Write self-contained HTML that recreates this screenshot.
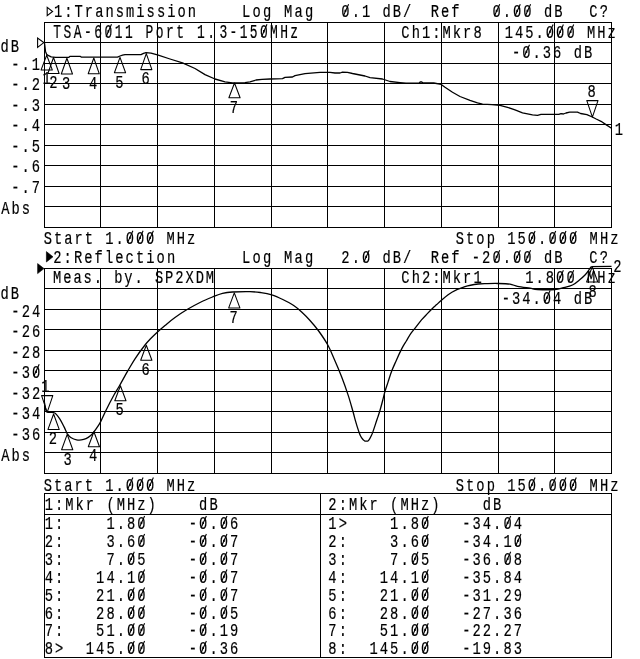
<!DOCTYPE html>
<html lang="en">
<head>
<meta charset="utf-8">
<title>Network analyzer plot</title>
<style>
html,body{margin:0;padding:0;background:#fff;}
body{width:640px;height:659px;overflow:hidden;}
svg{display:block;will-change:transform;}
text{font-kerning:none;white-space:pre;}
</style>
</head>
<body>
<svg width="640" height="659" viewBox="0 0 640 659">
<rect x="0" y="0" width="640" height="659" fill="#fff"/>
<g fill="#000">
<rect x="44" y="22" width="568" height="1"/>
<rect x="44" y="42" width="568" height="1"/>
<rect x="44" y="63" width="568" height="1"/>
<rect x="44" y="83" width="568" height="1"/>
<rect x="44" y="104" width="568" height="1"/>
<rect x="44" y="124" width="568" height="1"/>
<rect x="44" y="145" width="568" height="1"/>
<rect x="44" y="165" width="568" height="1"/>
<rect x="44" y="186" width="568" height="1"/>
<rect x="44" y="206" width="568" height="1"/>
<rect x="44" y="227" width="568" height="1"/>
<rect x="44" y="22" width="1" height="206"/>
<rect x="100" y="22" width="1" height="206"/>
<rect x="157" y="22" width="1" height="206"/>
<rect x="214" y="22" width="1" height="206"/>
<rect x="271" y="22" width="1" height="206"/>
<rect x="327" y="22" width="1" height="206"/>
<rect x="384" y="22" width="1" height="206"/>
<rect x="441" y="22" width="1" height="206"/>
<rect x="498" y="22" width="1" height="206"/>
<rect x="554" y="22" width="1" height="206"/>
<rect x="611" y="22" width="1" height="206"/>
<rect x="44" y="268" width="568" height="1"/>
<rect x="44" y="288" width="568" height="1"/>
<rect x="44" y="309" width="568" height="1"/>
<rect x="44" y="329" width="568" height="1"/>
<rect x="44" y="350" width="568" height="1"/>
<rect x="44" y="370" width="568" height="1"/>
<rect x="44" y="391" width="568" height="1"/>
<rect x="44" y="411" width="568" height="1"/>
<rect x="44" y="432" width="568" height="1"/>
<rect x="44" y="452" width="568" height="1"/>
<rect x="44" y="473" width="568" height="1"/>
<rect x="44" y="268" width="1" height="206"/>
<rect x="100" y="268" width="1" height="206"/>
<rect x="157" y="268" width="1" height="206"/>
<rect x="214" y="268" width="1" height="206"/>
<rect x="271" y="268" width="1" height="206"/>
<rect x="327" y="268" width="1" height="206"/>
<rect x="384" y="268" width="1" height="206"/>
<rect x="441" y="268" width="1" height="206"/>
<rect x="498" y="268" width="1" height="206"/>
<rect x="554" y="268" width="1" height="206"/>
<rect x="611" y="268" width="1" height="206"/>
<rect x="44" y="493" width="568" height="1"/>
<rect x="44" y="514" width="568" height="1"/>
<rect x="44" y="657" width="568" height="1"/>
<rect x="44" y="493" width="1" height="165"/>
<rect x="320" y="493" width="1" height="165"/>
<rect x="611" y="493" width="1" height="165"/>
</g>
<path d="M44.5,43.0 L45.5,51.4 L46.6,54.2 L48.1,55.4 L51.2,56.8 L55.7,57.4 L68.6,57.4 L69.8,56.4 L80.5,56.4 L81.5,57.2 L117.5,57.2 L120.0,56.0 L122.5,55.2 L125.0,54.6 L141.0,54.6 L143.5,53.4 L146.0,52.6 L151.0,53.2 L157.5,54.9 L170.0,59.0 L182.5,62.8 L195.0,68.5 L205.0,74.6 L215.0,79.0 L225.0,81.8 L232.5,82.8 L245.0,82.6 L250.0,81.8 L256.0,80.0 L262.0,79.3 L270.0,79.0 L282.5,78.6 L285.0,77.3 L292.5,77.0 L295.0,75.6 L305.0,73.6 L320.0,72.4 L330.0,72.4 L335.0,73.0 L340.0,73.0 L342.5,72.1 L347.5,72.3 L352.5,73.5 L365.0,76.0 L370.0,77.7 L382.5,79.0 L390.0,81.5 L400.0,82.6 L406.0,83.2 L419.0,83.2 L420.2,82.0 L421.8,82.0 L423.0,83.0 L433.8,83.0 L441.2,84.4 L445.0,87.3 L452.5,92.3 L460.0,96.5 L470.0,100.3 L477.5,102.8 L482.5,104.2 L492.0,104.6 L500.0,105.3 L507.5,107.3 L515.0,109.8 L522.5,112.8 L532.5,114.8 L537.5,115.3 L541.0,114.4 L558.8,114.4 L561.0,113.6 L563.4,114.0 L566.0,113.0 L569.7,112.1 L577.5,112.1 L580.6,113.5 L586.9,114.6 L592.3,117.0 L596.2,119.0 L601.0,121.3 L605.6,124.4 L611.5,128.3" fill="none" stroke="#000" stroke-width="1.3" stroke-linejoin="round"/>
<path d="M44.5,402.5 C44.6,403.4 45.1,406.5 45.4,408.0 C45.7,409.5 45.8,410.9 46.4,411.6 C47.0,412.3 47.9,412.2 49.3,412.4 C50.7,412.6 53.1,412.0 54.8,413.0 C56.4,414.0 57.8,416.0 59.4,418.3 C61.0,420.6 62.8,424.3 64.1,426.9 C65.4,429.4 66.1,431.8 67.2,433.6 C68.4,435.4 69.6,436.8 71.2,437.8 C72.8,438.8 74.9,439.5 76.6,439.8 C78.3,440.1 79.7,440.1 81.3,439.9 C82.9,439.7 84.4,439.3 86.0,438.6 C87.6,437.9 89.4,436.6 90.7,435.5 C92.0,434.4 92.5,433.7 93.8,432.0 C95.1,430.3 97.3,427.1 98.5,425.3 C99.7,423.5 99.5,424.0 100.8,421.4 C102.1,418.8 104.1,414.1 106.3,409.7 C108.5,405.3 111.9,398.8 114.1,394.8 C116.3,390.8 117.4,389.4 119.6,385.5 C121.8,381.6 124.9,375.8 127.5,371.3 C130.1,366.9 132.1,363.2 135.0,358.8 C137.9,354.4 142.5,348.2 145.0,345.0 C147.5,341.8 147.9,341.5 150.0,339.3 C152.1,337.1 155.0,334.3 157.5,332.0 C160.0,329.7 162.1,327.9 165.0,325.5 C167.9,323.1 171.2,320.2 175.0,317.5 C178.8,314.8 183.3,311.8 187.5,309.3 C191.7,306.8 195.8,304.6 200.0,302.5 C204.2,300.4 208.8,298.5 212.5,297.0 C216.2,295.5 219.2,294.2 222.5,293.4 C225.8,292.6 227.9,292.3 232.5,292.0 C237.1,291.7 245.2,291.5 250.0,291.6 C254.8,291.7 257.4,292.1 261.0,292.6 C264.6,293.1 268.2,293.7 271.8,294.8 C275.4,295.9 279.2,297.7 282.8,299.5 C286.4,301.3 290.5,303.4 293.7,305.5 C296.9,307.6 299.2,309.8 301.9,312.3 C304.6,314.8 307.3,317.5 310.0,320.5 C312.7,323.5 315.3,326.4 318.3,330.5 C321.3,334.6 325.1,340.1 327.8,345.0 C330.5,349.9 332.3,354.8 334.6,360.0 C336.9,365.2 339.2,370.6 341.5,376.5 C343.8,382.4 346.4,389.8 348.3,395.6 C350.2,401.4 351.7,407.1 352.9,411.3 C354.1,415.5 354.5,417.4 355.4,420.6 C356.3,423.8 357.6,428.0 358.5,430.6 C359.4,433.2 359.9,434.8 360.7,436.3 C361.5,437.9 362.6,439.1 363.3,439.9 C364.0,440.7 364.2,440.8 364.9,441.0 C365.6,441.2 367.0,441.2 367.7,441.0 C368.4,440.8 368.4,440.7 369.0,439.9 C369.6,439.1 370.4,437.6 371.0,436.3 C371.6,435.0 372.2,433.9 372.9,431.9 C373.6,429.9 374.6,426.9 375.4,424.4 C376.2,421.9 377.1,419.3 377.9,416.9 C378.7,414.5 379.3,412.8 380.1,410.0 C380.9,407.2 382.0,403.2 382.8,400.0 C383.6,396.8 384.2,394.0 385.1,391.0 C386.0,388.0 387.0,385.3 388.1,381.9 C389.2,378.5 390.5,374.3 391.9,370.6 C393.3,366.9 394.9,363.6 396.5,359.9 C398.1,356.2 400.2,351.8 401.8,348.6 C403.4,345.5 404.8,343.5 406.3,341.0 C407.8,338.5 409.4,335.6 410.9,333.4 C412.4,331.2 413.7,329.9 415.5,327.6 C417.3,325.4 419.5,322.3 421.5,319.9 C423.5,317.5 425.7,315.4 427.6,313.4 C429.5,311.4 431.4,309.5 432.9,308.0 C434.4,306.5 435.3,305.9 436.7,304.6 C438.1,303.3 438.9,302.3 441.4,300.2 C443.9,298.1 448.0,294.5 451.9,292.2 C455.8,289.9 460.6,288.0 465.0,286.6 C469.4,285.2 474.4,284.5 478.2,284.0 C481.9,283.5 484.2,283.7 487.5,283.6 C490.8,283.5 494.2,283.4 498.0,283.5 C501.8,283.6 506.8,283.7 510.0,284.2 C513.2,284.7 514.2,285.6 517.5,286.3 C520.8,287.0 526.7,287.7 530.0,288.2 C533.3,288.7 533.3,289.3 537.5,289.5 C541.7,289.7 550.8,289.8 555.0,289.5 C559.2,289.2 559.6,288.8 562.5,288.0 C565.4,287.2 569.6,286.4 572.5,285.0 C575.4,283.6 577.9,281.2 580.0,279.5 C582.1,277.8 583.6,276.5 585.0,275.0 C586.4,273.5 587.5,272.0 588.5,270.6 C589.5,269.2 590.8,267.3 591.3,266.6" fill="none" stroke="#000" stroke-width="1.3" stroke-linejoin="round"/>
<path d="M591.3,266.6 L611.5,266.3" fill="none" stroke="#000" stroke-width="1.3" stroke-linejoin="round"/>
<g font-family='"Liberation Mono", "DejaVu Sans Mono", monospace' font-size="18.6" fill="#000" stroke="#000" stroke-width="0.2">
<path d="M46.7,55.3 L41.1,69.9 L52.3,69.9 Z" fill="none" stroke="#000" stroke-width="1.05" stroke-linejoin="round"/>
<text xml:space="preserve" transform="translate(42.38,84.10) scale(0.74,1)" style="letter-spacing:2.757px">1</text>
<path d="M53.5,57.5 L47.9,73.5 L59.1,73.5 Z" fill="none" stroke="#000" stroke-width="1.05" stroke-linejoin="round"/>
<text xml:space="preserve" transform="translate(49.18,87.90) scale(0.74,1)" style="letter-spacing:2.757px">2</text>
<path d="M66.9,58.2 L61.3,74.0 L72.5,74.0 Z" fill="none" stroke="#000" stroke-width="1.05" stroke-linejoin="round"/>
<text xml:space="preserve" transform="translate(62.08,88.80) scale(0.74,1)" style="letter-spacing:2.757px">3</text>
<path d="M93.8,58.0 L88.2,73.8 L99.3,73.8 Z" fill="none" stroke="#000" stroke-width="1.05" stroke-linejoin="round"/>
<text xml:space="preserve" transform="translate(88.93,88.60) scale(0.74,1)" style="letter-spacing:2.757px">4</text>
<path d="M120.0,57.4 L114.4,72.8 L125.6,72.8 Z" fill="none" stroke="#000" stroke-width="1.05" stroke-linejoin="round"/>
<text xml:space="preserve" transform="translate(115.18,87.60) scale(0.74,1)" style="letter-spacing:2.757px">5</text>
<path d="M146.3,53.6 L140.7,69.6 L151.9,69.6 Z" fill="none" stroke="#000" stroke-width="1.05" stroke-linejoin="round"/>
<text xml:space="preserve" transform="translate(141.48,84.40) scale(0.74,1)" style="letter-spacing:2.757px">6</text>
<path d="M234.5,83.0 L228.9,97.8 L240.1,97.8 Z" fill="none" stroke="#000" stroke-width="1.05" stroke-linejoin="round"/>
<text xml:space="preserve" transform="translate(229.68,112.60) scale(0.74,1)" style="letter-spacing:2.757px">7</text>
<path d="M592.4,117.2 L586.8,100.6 L598.0,100.6 Z" fill="none" stroke="#000" stroke-width="1.05" stroke-linejoin="round"/>
<text xml:space="preserve" transform="translate(587.58,97.40) scale(0.74,1)" style="letter-spacing:2.757px">8</text>
<path d="M47.2,412.4 L41.6,395.6 L52.8,395.6 Z" fill="none" stroke="#000" stroke-width="1.05" stroke-linejoin="round"/>
<text xml:space="preserve" transform="translate(41.18,392.20) scale(0.74,1)" style="letter-spacing:2.757px">1</text>
<path d="M53.6,414.0 L48.0,429.4 L59.2,429.4 Z" fill="none" stroke="#000" stroke-width="1.05" stroke-linejoin="round"/>
<text xml:space="preserve" transform="translate(48.78,444.20) scale(0.74,1)" style="letter-spacing:2.757px">2</text>
<path d="M67.2,434.4 L61.6,449.8 L72.8,449.8 Z" fill="none" stroke="#000" stroke-width="1.05" stroke-linejoin="round"/>
<text xml:space="preserve" transform="translate(63.38,464.60) scale(0.74,1)" style="letter-spacing:2.757px">3</text>
<path d="M93.9,431.8 L88.3,446.8 L99.5,446.8 Z" fill="none" stroke="#000" stroke-width="1.05" stroke-linejoin="round"/>
<text xml:space="preserve" transform="translate(89.08,461.20) scale(0.74,1)" style="letter-spacing:2.757px">4</text>
<path d="M120.4,385.7 L114.8,400.7 L126.0,400.7 Z" fill="none" stroke="#000" stroke-width="1.05" stroke-linejoin="round"/>
<text xml:space="preserve" transform="translate(115.58,414.70) scale(0.74,1)" style="letter-spacing:2.757px">5</text>
<path d="M146.3,345.3 L140.7,360.3 L151.9,360.3 Z" fill="none" stroke="#000" stroke-width="1.05" stroke-linejoin="round"/>
<text xml:space="preserve" transform="translate(141.48,375.10) scale(0.74,1)" style="letter-spacing:2.757px">6</text>
<path d="M234.3,292.9 L228.7,307.9 L239.9,307.9 Z" fill="none" stroke="#000" stroke-width="1.05" stroke-linejoin="round"/>
<text xml:space="preserve" transform="translate(229.48,322.70) scale(0.74,1)" style="letter-spacing:2.757px">7</text>
<path d="M592.2,266.8 L586.6,282.0 L597.8,282.0 Z" fill="none" stroke="#000" stroke-width="1.05" stroke-linejoin="round"/>
<text xml:space="preserve" transform="translate(588.58,296.80) scale(0.74,1)" style="letter-spacing:2.757px">8</text>
<text xml:space="preserve" transform="translate(614.83,134.60) scale(0.74,1)" style="letter-spacing:2.757px">1</text>
<text xml:space="preserve" transform="translate(613.33,272.00) scale(0.74,1)" style="letter-spacing:2.757px">2</text>
<path d="M47.2,7.3 L47.2,15.7 L52.6,11.5 Z" fill="none" stroke="#000" stroke-width="1.1"/>
<text xml:space="preserve" transform="translate(53.93,17.40) scale(0.74,1)" style="letter-spacing:2.757px">1:Transmission</text>
<text xml:space="preserve" transform="translate(241.93,17.40) scale(0.74,1)" style="letter-spacing:3.027px">Log Mag</text>
<text xml:space="preserve" transform="translate(341.33,17.40) scale(0.74,1)" style="letter-spacing:2.757px">0.1 dB/</text>
<text xml:space="preserve" transform="translate(430.63,17.40) scale(0.74,1)" style="letter-spacing:2.757px">Ref   0.00 dB</text>
<text xml:space="preserve" transform="translate(589.33,17.40) scale(0.74,1)" style="letter-spacing:2.757px">C?</text>
<text xml:space="preserve" transform="translate(53.19,38.00) scale(0.66,1)" font-size="19.6" style="letter-spacing:3.799px">TSA-6011 Port 1.<tspan dx="3.15" style="letter-spacing:3.571px">3-150MHz</tspan></text>
<text xml:space="preserve" transform="translate(401.33,37.60) scale(0.74,1)" style="letter-spacing:2.757px">Ch1:Mkr8</text>
<text xml:space="preserve" transform="translate(504.63,37.60) scale(0.74,1)" style="letter-spacing:2.757px">145.000 MHz</text>
<text xml:space="preserve" transform="translate(501.63,58.00) scale(0.74,1)" style="letter-spacing:2.757px"> -0.36 dB</text>
<text xml:space="preserve" transform="translate(0.53,52.20) scale(0.74,1)" style="letter-spacing:2.757px">dB</text>
<text xml:space="preserve" transform="translate(11.13,69.90) scale(0.74,1)" style="letter-spacing:2.757px">-.1</text>
<text xml:space="preserve" transform="translate(11.13,89.90) scale(0.74,1)" style="letter-spacing:2.757px">-.2</text>
<text xml:space="preserve" transform="translate(11.13,110.90) scale(0.74,1)" style="letter-spacing:2.757px">-.3</text>
<text xml:space="preserve" transform="translate(11.13,130.90) scale(0.74,1)" style="letter-spacing:2.757px">-.4</text>
<text xml:space="preserve" transform="translate(11.13,151.90) scale(0.74,1)" style="letter-spacing:2.757px">-.5</text>
<text xml:space="preserve" transform="translate(11.13,171.90) scale(0.74,1)" style="letter-spacing:2.757px">-.6</text>
<text xml:space="preserve" transform="translate(11.13,192.90) scale(0.74,1)" style="letter-spacing:2.757px">-.7</text>
<text xml:space="preserve" transform="translate(1.13,214.20) scale(0.74,1)" style="letter-spacing:2.757px">Abs</text>
<path d="M37.6,38.0 L37.6,47.4 L43.8,42.6 Z" fill="none" stroke="#000" stroke-width="1.1"/>
<text xml:space="preserve" transform="translate(43.73,244.00) scale(0.74,1)" style="letter-spacing:2.676px">Start 1.000 MHz</text>
<text xml:space="preserve" transform="translate(455.73,244.20) scale(0.74,1)" style="letter-spacing:2.757px">Stop 150.000 MHz</text>
<path d="M46.4,251.6 L46.4,262.0 L53.0,256.8 Z" fill="#000" stroke="#000" stroke-width="0.6"/>
<text xml:space="preserve" transform="translate(53.23,263.40) scale(0.74,1)" style="letter-spacing:2.811px">2:Reflection</text>
<text xml:space="preserve" transform="translate(241.93,263.40) scale(0.74,1)" style="letter-spacing:3.027px">Log Mag</text>
<text xml:space="preserve" transform="translate(341.33,263.40) scale(0.74,1)" style="letter-spacing:2.757px">2.0 dB/</text>
<text xml:space="preserve" transform="translate(430.63,263.40) scale(0.74,1)" style="letter-spacing:2.757px">Ref -20.00 dB</text>
<text xml:space="preserve" transform="translate(589.33,263.40) scale(0.74,1)" style="letter-spacing:2.757px">C?</text>
<text xml:space="preserve" transform="translate(42.83,283.40) scale(0.74,1)" style="letter-spacing:2.608px"> Meas. by. SP2XDM</text>
<text xml:space="preserve" transform="translate(401.33,283.40) scale(0.74,1)" style="letter-spacing:2.757px">Ch2:Mkr1</text>
<text xml:space="preserve" transform="translate(504.63,283.40) scale(0.74,1)" style="letter-spacing:2.757px">  1.800 MHz</text>
<text xml:space="preserve" transform="translate(501.63,303.60) scale(0.74,1)" style="letter-spacing:2.757px">-34.04 dB</text>
<text xml:space="preserve" transform="translate(0.53,298.50) scale(0.74,1)" style="letter-spacing:2.757px">dB</text>
<text xml:space="preserve" transform="translate(11.33,316.50) scale(0.74,1)" style="letter-spacing:2.757px">-24</text>
<text xml:space="preserve" transform="translate(11.33,336.50) scale(0.74,1)" style="letter-spacing:2.757px">-26</text>
<text xml:space="preserve" transform="translate(11.33,357.50) scale(0.74,1)" style="letter-spacing:2.757px">-28</text>
<text xml:space="preserve" transform="translate(11.33,377.50) scale(0.74,1)" style="letter-spacing:2.757px">-30</text>
<text xml:space="preserve" transform="translate(11.33,398.50) scale(0.74,1)" style="letter-spacing:2.757px">-32</text>
<text xml:space="preserve" transform="translate(11.33,418.50) scale(0.74,1)" style="letter-spacing:2.757px">-34</text>
<text xml:space="preserve" transform="translate(11.33,439.50) scale(0.74,1)" style="letter-spacing:2.757px">-36</text>
<text xml:space="preserve" transform="translate(1.13,461.00) scale(0.74,1)" style="letter-spacing:2.757px">Abs</text>
<path d="M37.6,263.6 L37.6,273.6 L44.0,268.6 Z" fill="#000" stroke="#000" stroke-width="0.6"/>
<text xml:space="preserve" transform="translate(43.73,490.60) scale(0.74,1)" style="letter-spacing:2.676px">Start 1.000 MHz</text>
<text xml:space="preserve" transform="translate(455.73,490.60) scale(0.74,1)" style="letter-spacing:2.757px">Stop 150.000 MHz</text>
<text xml:space="preserve" transform="translate(44.63,509.80) scale(0.74,1)" style="letter-spacing:2.757px">1:Mkr (MHz)    dB</text>
<text xml:space="preserve" transform="translate(328.33,509.80) scale(0.74,1)" style="letter-spacing:2.757px">2:Mkr (MHz)    dB</text>
<text xml:space="preserve" transform="translate(44.63,529.20) scale(0.74,1)" style="letter-spacing:2.757px">1:    1.80    -0.06</text>
<text xml:space="preserve" transform="translate(328.33,529.20) scale(0.74,1)" style="letter-spacing:2.757px">1&gt;    1.80   -34.04</text>
<text xml:space="preserve" transform="translate(44.63,547.07) scale(0.74,1)" style="letter-spacing:2.757px">2:    3.60    -0.07</text>
<text xml:space="preserve" transform="translate(328.33,547.07) scale(0.74,1)" style="letter-spacing:2.757px">2:    3.60   -34.10</text>
<text xml:space="preserve" transform="translate(44.63,564.94) scale(0.74,1)" style="letter-spacing:2.757px">3:    7.05    -0.07</text>
<text xml:space="preserve" transform="translate(328.33,564.94) scale(0.74,1)" style="letter-spacing:2.757px">3:    7.05   -36.08</text>
<text xml:space="preserve" transform="translate(44.63,582.81) scale(0.74,1)" style="letter-spacing:2.757px">4:   14.10    -0.07</text>
<text xml:space="preserve" transform="translate(328.33,582.81) scale(0.74,1)" style="letter-spacing:2.757px">4:   14.10   -35.84</text>
<text xml:space="preserve" transform="translate(44.63,600.68) scale(0.74,1)" style="letter-spacing:2.757px">5:   21.00    -0.07</text>
<text xml:space="preserve" transform="translate(328.33,600.68) scale(0.74,1)" style="letter-spacing:2.757px">5:   21.00   -31.29</text>
<text xml:space="preserve" transform="translate(44.63,618.55) scale(0.74,1)" style="letter-spacing:2.757px">6:   28.00    -0.05</text>
<text xml:space="preserve" transform="translate(328.33,618.55) scale(0.74,1)" style="letter-spacing:2.757px">6:   28.00   -27.36</text>
<text xml:space="preserve" transform="translate(44.63,636.42) scale(0.74,1)" style="letter-spacing:2.757px">7:   51.00    -0.19</text>
<text xml:space="preserve" transform="translate(328.33,636.42) scale(0.74,1)" style="letter-spacing:2.757px">7:   51.00   -22.27</text>
<text xml:space="preserve" transform="translate(44.63,654.29) scale(0.74,1)" style="letter-spacing:2.757px">8&gt;  145.00    -0.36</text>
<text xml:space="preserve" transform="translate(328.33,654.29) scale(0.74,1)" style="letter-spacing:2.757px">8:  145.00   -19.83</text>
</g>
<path d="M343.2,16.2 L348.6,4.2 M494.3,16.2 L499.7,4.2 M514.9,16.2 L520.3,4.2 M525.2,16.2 L530.6,4.2 M106.1,36.8 L111.5,24.2 M261.6,36.8 L267.0,24.2 M547.7,36.4 L553.1,24.4 M558.0,36.4 L563.4,24.4 M568.3,36.4 L573.7,24.4 M524.1,56.8 L529.5,44.8 M127.5,242.8 L132.9,230.8 M137.7,242.8 L143.1,230.8 M148.0,242.8 L153.4,230.8 M529.7,243.0 L535.1,231.0 M550.3,243.0 L555.7,231.0 M560.6,243.0 L566.0,231.0 M570.9,243.0 L576.3,231.0 M363.8,262.2 L369.2,250.2 M494.3,262.2 L499.7,250.2 M514.9,262.2 L520.3,250.2 M525.2,262.2 L530.6,250.2 M558.0,282.2 L563.4,270.2 M568.3,282.2 L573.7,270.2 M544.7,302.4 L550.1,290.4 M33.8,376.3 L39.2,364.3 M127.5,489.4 L132.9,477.4 M137.7,489.4 L143.1,477.4 M148.0,489.4 L153.4,477.4 M529.7,489.4 L535.1,477.4 M550.3,489.4 L555.7,477.4 M560.6,489.4 L566.0,477.4 M570.9,489.4 L576.3,477.4 M139.2,528.0 L144.6,516.0 M201.0,528.0 L206.4,516.0 M221.6,528.0 L227.0,516.0 M422.9,528.0 L428.3,516.0 M505.3,528.0 L510.7,516.0 M139.2,545.9 L144.6,533.9 M201.0,545.9 L206.4,533.9 M221.6,545.9 L227.0,533.9 M422.9,545.9 L428.3,533.9 M515.6,545.9 L521.0,533.9 M128.9,563.7 L134.3,551.8 M201.0,563.7 L206.4,551.8 M221.6,563.7 L227.0,551.8 M412.6,563.7 L418.0,551.8 M505.3,563.7 L510.7,551.8 M139.2,581.6 L144.6,569.6 M201.0,581.6 L206.4,569.6 M221.6,581.6 L227.0,569.6 M422.9,581.6 L428.3,569.6 M128.9,599.5 L134.3,587.5 M139.2,599.5 L144.6,587.5 M201.0,599.5 L206.4,587.5 M221.6,599.5 L227.0,587.5 M412.6,599.5 L418.0,587.5 M422.9,599.5 L428.3,587.5 M128.9,617.4 L134.3,605.4 M139.2,617.4 L144.6,605.4 M201.0,617.4 L206.4,605.4 M221.6,617.4 L227.0,605.4 M412.6,617.4 L418.0,605.4 M422.9,617.4 L428.3,605.4 M128.9,635.2 L134.3,623.2 M139.2,635.2 L144.6,623.2 M201.0,635.2 L206.4,623.2 M412.6,635.2 L418.0,623.2 M422.9,635.2 L428.3,623.2 M128.9,653.1 L134.3,641.1 M139.2,653.1 L144.6,641.1 M201.0,653.1 L206.4,641.1 M412.6,653.1 L418.0,641.1 M422.9,653.1 L428.3,641.1" fill="none" stroke="#000" stroke-width="1.1"/>
</svg>
</body>
</html>
